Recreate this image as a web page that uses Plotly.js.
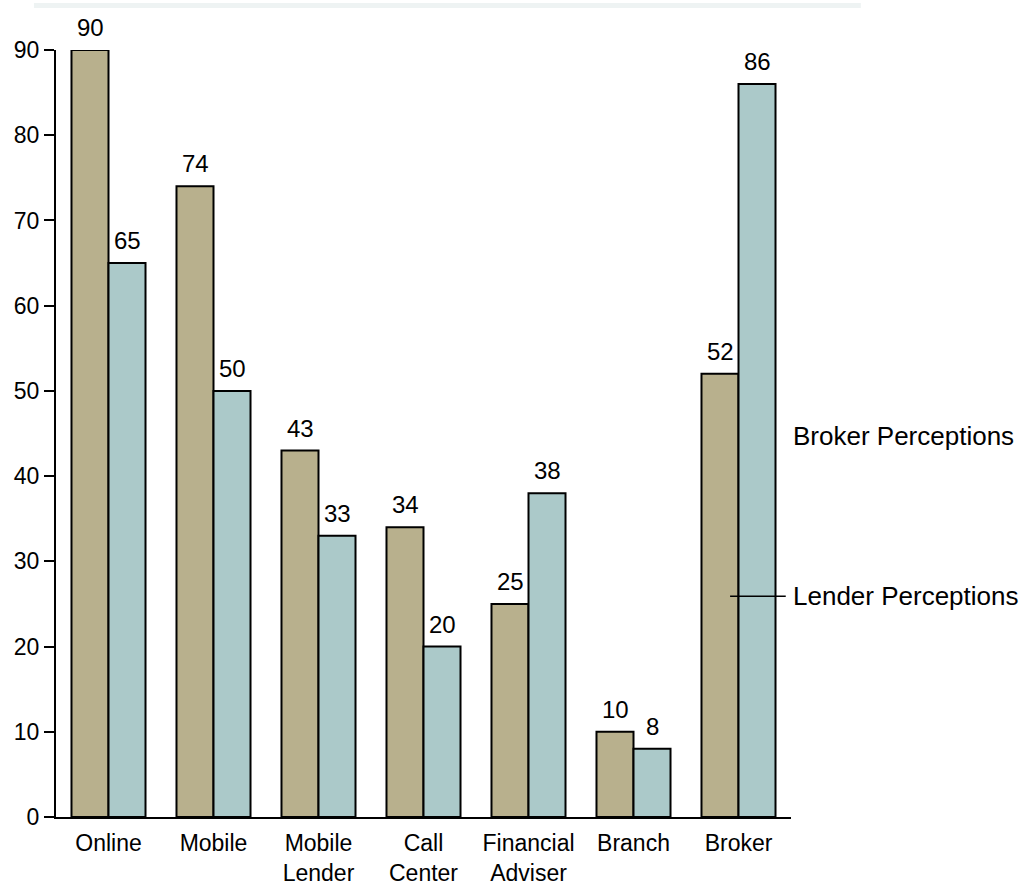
<!DOCTYPE html>
<html>
<head>
<meta charset="utf-8">
<script src="https://cdn.plot.ly/plotly-3.0.1.min.js"></script>
<style>
  html, body { margin: 0; padding: 0; background: #ffffff; }
  #chart { width: 1023px; height: 885px; }
</style>
</head>
<body>
<div id="chart"></div>
<script>
// Channel categories (line breaks for the two-line tick labels)
const categories = ['Online', 'Mobile', 'Mobile<br>Lender', 'Call<br>Center', 'Financial<br>Adviser', 'Branch', 'Broker'];

// Perception scores per channel
const brokerPerceptions = [90, 74, 43, 34, 25, 10, 52];
const lenderPerceptions = [65, 50, 33, 20, 38, 8, 86];

// Series names used for the side labels
const seriesNames = ['Broker Perceptions', 'Lender Perceptions'];

const FONT = 'Liberation Sans, Arial, Helvetica, sans-serif';
const TAN = '#b8b08d';
const TEAL = '#abc9c9';
const HALF_BAR_PX = 18.5;   // horizontal offset of each bar within its group

function barTrace(name, values, color) {
  return {
    type: 'bar',
    name: name,
    x: categories,
    y: values,
    marker: { color: color, line: { color: '#000000', width: 2 } },
    hoverinfo: 'x+y'
  };
}

// value labels sitting above each bar
function valueLabels(values, shift) {
  return values.map((v, i) => ({
    xref: 'x', yref: 'y',
    x: categories[i], y: v,
    xshift: shift, yshift: 7,
    xanchor: 'center', yanchor: 'bottom',
    text: String(v), showarrow: false,
    font: { family: FONT, size: 24, color: '#000000' }
  }));
}

const data = [
  barTrace(seriesNames[0], brokerPerceptions, TAN),
  barTrace(seriesNames[1], lenderPerceptions, TEAL)
];

const layout = {
  width: 1023,
  height: 885,
  margin: { l: 56, r: 232, t: 50, b: 68 },
  paper_bgcolor: '#ffffff',
  plot_bgcolor: '#ffffff',
  showlegend: false,
  barmode: 'group',
  bargap: 0.295,
  bargroupgap: 0,
  font: { family: FONT, size: 23, color: '#000000' },
  xaxis: {
    type: 'category',
    range: [-0.5, 6.5],
    showline: true,
    linecolor: '#000000',
    linewidth: 2,
    ticks: '',
    ticklabelstandoff: 4,
    showgrid: false,
    zeroline: false,
    tickfont: { family: FONT, size: 23, color: '#000000' },
    fixedrange: true
  },
  yaxis: {
    range: [0, 90],
    dtick: 10,
    tick0: 0,
    showline: true,
    linecolor: '#000000',
    linewidth: 2,
    ticks: 'outside',
    ticklen: 10,
    tickwidth: 2,
    tickcolor: '#000000',
    showgrid: false,
    zeroline: false,
    tickfont: { family: FONT, size: 23, color: '#000000' },
    fixedrange: true
  },
  shapes: [
    // faint rule along the top edge
    {
      type: 'line', xref: 'paper', yref: 'paper',
      x0: -0.03, x1: 1.095, y0: 1.058, y1: 1.058,
      line: { color: 'rgba(205,220,220,0.35)', width: 5 }
    },
    // leader line for the lender label
    {
      type: 'line', xref: 'x', yref: 'y',
      x0: 5.92, x1: 6.45, y0: 25.9, y1: 25.9,
      line: { color: '#000000', width: 1.5 }
    }
  ],
  annotations: [
    ...valueLabels(brokerPerceptions, -HALF_BAR_PX),
    ...valueLabels(lenderPerceptions, HALF_BAR_PX),
    {
      xref: 'x', yref: 'y', x: 6.5, y: 44.7,
      xanchor: 'left', yanchor: 'middle',
      text: seriesNames[0], showarrow: false,
      font: { family: FONT, size: 26, color: '#000000' }
    },
    {
      xref: 'x', yref: 'y', x: 6.5, y: 25.9,
      xanchor: 'left', yanchor: 'middle',
      text: seriesNames[1], showarrow: false,
      font: { family: FONT, size: 26, color: '#000000' }
    }
  ]
};

Plotly.newPlot('chart', data, layout, { displayModeBar: false, staticPlot: true });
</script>
</body>
</html>
